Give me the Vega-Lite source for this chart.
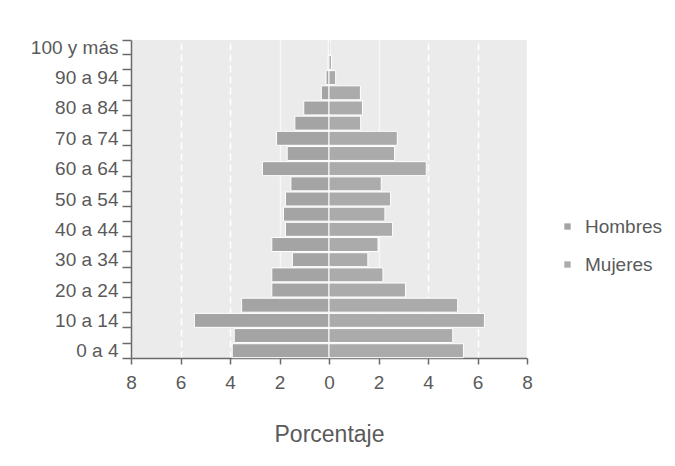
{
  "$schema": "https://vega.github.io/schema/vega-lite/v6.json",
  "width": 396,
  "height": 318,
  "autosize": "none",
  "padding": {"left": 131, "top": 40, "right": 148, "bottom": 108},
  "background": "white",
  "config": {
    "font": "Liberation Sans",
    "view": {"fill": "#ebebeb", "stroke": null}
  },
  "data": {
    "values": [
      {"edad": "100 y más", "sexo": "Hombres", "valor": -0.03},
      {"edad": "100 y más", "sexo": "Mujeres", "valor": 0.05},
      {"edad": "95 a 99", "sexo": "Hombres", "valor": -0.04},
      {"edad": "95 a 99", "sexo": "Mujeres", "valor": 0.1},
      {"edad": "90 a 94", "sexo": "Hombres", "valor": -0.12},
      {"edad": "90 a 94", "sexo": "Mujeres", "valor": 0.27},
      {"edad": "85 a 89", "sexo": "Hombres", "valor": -0.31},
      {"edad": "85 a 89", "sexo": "Mujeres", "valor": 1.27},
      {"edad": "80 a 84", "sexo": "Hombres", "valor": -1.02},
      {"edad": "80 a 84", "sexo": "Mujeres", "valor": 1.35},
      {"edad": "75 a 79", "sexo": "Hombres", "valor": -1.38},
      {"edad": "75 a 79", "sexo": "Mujeres", "valor": 1.28},
      {"edad": "70 a 74", "sexo": "Hombres", "valor": -2.12},
      {"edad": "70 a 74", "sexo": "Mujeres", "valor": 2.76},
      {"edad": "65 a 69", "sexo": "Hombres", "valor": -1.69},
      {"edad": "65 a 69", "sexo": "Mujeres", "valor": 2.65},
      {"edad": "60 a 64", "sexo": "Hombres", "valor": -2.69},
      {"edad": "60 a 64", "sexo": "Mujeres", "valor": 3.93},
      {"edad": "55 a 59", "sexo": "Hombres", "valor": -1.54},
      {"edad": "55 a 59", "sexo": "Mujeres", "valor": 2.11},
      {"edad": "50 a 54", "sexo": "Hombres", "valor": -1.76},
      {"edad": "50 a 54", "sexo": "Mujeres", "valor": 2.49},
      {"edad": "45 a 49", "sexo": "Hombres", "valor": -1.84},
      {"edad": "45 a 49", "sexo": "Mujeres", "valor": 2.26},
      {"edad": "40 a 44", "sexo": "Hombres", "valor": -1.76},
      {"edad": "40 a 44", "sexo": "Mujeres", "valor": 2.57},
      {"edad": "35 a 39", "sexo": "Hombres", "valor": -2.31},
      {"edad": "35 a 39", "sexo": "Mujeres", "valor": 1.98},
      {"edad": "30 a 34", "sexo": "Hombres", "valor": -1.48},
      {"edad": "30 a 34", "sexo": "Mujeres", "valor": 1.57},
      {"edad": "25 a 29", "sexo": "Hombres", "valor": -2.31},
      {"edad": "25 a 29", "sexo": "Mujeres", "valor": 2.18},
      {"edad": "20 a 24", "sexo": "Hombres", "valor": -2.31},
      {"edad": "20 a 24", "sexo": "Mujeres", "valor": 3.09},
      {"edad": "15 a 19", "sexo": "Hombres", "valor": -3.53},
      {"edad": "15 a 19", "sexo": "Mujeres", "valor": 5.2},
      {"edad": "10 a 14", "sexo": "Hombres", "valor": -5.44},
      {"edad": "10 a 14", "sexo": "Mujeres", "valor": 6.28},
      {"edad": "5 a 9", "sexo": "Hombres", "valor": -3.83},
      {"edad": "5 a 9", "sexo": "Mujeres", "valor": 5.0},
      {"edad": "0 a 4", "sexo": "Hombres", "valor": -3.91},
      {"edad": "0 a 4", "sexo": "Mujeres", "valor": 5.43}
    ]
  },
  "mark": {"type": "bar", "stroke": "white", "strokeWidth": 1},
  "encoding": {
    "y": {
      "field": "edad",
      "type": "nominal",
      "sort": ["100 y más", "95 a 99", "90 a 94", "85 a 89", "80 a 84", "75 a 79", "70 a 74", "65 a 69", "60 a 64", "55 a 59", "50 a 54", "45 a 49", "40 a 44", "35 a 39", "30 a 34", "25 a 29", "20 a 24", "15 a 19", "10 a 14", "5 a 9", "0 a 4"],
      "scale": {"paddingInner": 0.08, "paddingOuter": 0.02},
      "axis": {
        "title": null,
        "tickBand": "extent",
        "labelExpr": "indexof(['100 y más','90 a 94','80 a 84','70 a 74','60 a 64','50 a 54','40 a 44','30 a 34','20 a 24','10 a 14','0 a 4'], datum.value) >= 0 ? datum.value : ''",
        "labelFontSize": 19,
        "labelColor": "#5a5a5a",
        "labelPadding": 4,
        "tickSize": 9,
        "tickColor": "#6a6a6a",
        "tickWidth": 1.5,
        "domainColor": "#6a6a6a",
        "domainWidth": 1.5,
        "grid": false
      }
    },
    "x": {
      "field": "valor",
      "type": "quantitative",
      "stack": null,
      "scale": {"domain": [-8, 8], "nice": false},
      "axis": {
        "title": "Porcentaje",
        "titleFontSize": 23,
        "titleFontWeight": "normal",
        "titleColor": "#5a5a5a",
        "titlePadding": 31,
        "values": [-8, -6, -4, -2, 0, 2, 4, 6, 8],
        "labelExpr": "abs(datum.value)",
        "labelFlush": false,
        "labelBound": false,
        "labelFontSize": 19,
        "labelColor": "#5a5a5a",
        "labelPadding": 9,
        "tickSize": 6,
        "tickColor": "#6a6a6a",
        "tickWidth": 1.5,
        "domainColor": "#6a6a6a",
        "domainWidth": 1.5,
        "grid": true,
        "gridColor": "white",
        "gridWidth": 1.5,
        "gridDash": {"condition": {"test": "abs(datum.value) >= 4", "value": [7, 4]}, "value": []},
        "gridOpacity": {"condition": {"test": "abs(datum.value) == 2", "value": 0.6}, "value": 1}
      }
    },
    "color": {
      "field": "sexo",
      "type": "nominal",
      "scale": {"domain": ["Hombres", "Mujeres"], "range": ["#a4a4a4", "#ababab"]},
      "legend": {
        "title": null,
        "orient": "none",
        "legendX": 427,
        "legendY": 177,
        "symbolType": "square",
        "symbolSize": 40,
        "symbolStrokeWidth": 0,
        "labelFontSize": 19,
        "labelColor": "#5a5a5a",
        "labelOffset": 8,
        "rowPadding": 18
      }
    }
  }
}
